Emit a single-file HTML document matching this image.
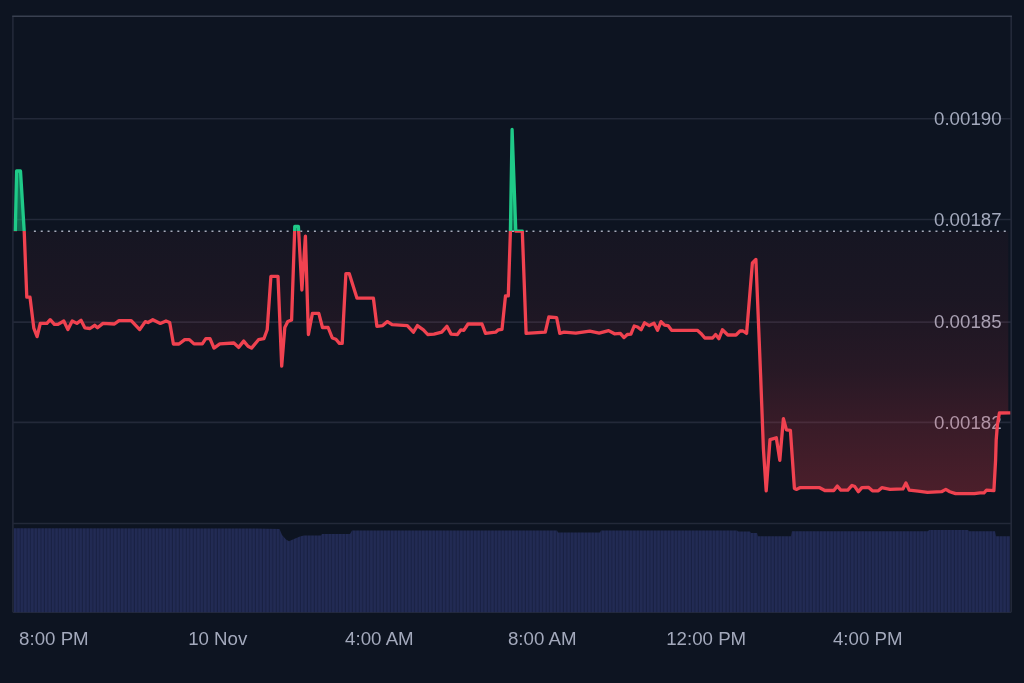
<!DOCTYPE html>
<html lang="en">
<head>
<meta charset="utf-8">
<title>Price chart</title>
<style>
html,body{margin:0;padding:0;background:#0d1421;}
body{width:1024px;height:683px;overflow:hidden;font-family:"Liberation Sans",Arial,sans-serif;}
svg{display:block;filter:blur(0.45px);}
.ax{font-family:"Liberation Sans",Arial,sans-serif;font-size:18.7px;fill:#a3a9bc;}
</style>
</head>
<body>
<svg width="1024" height="683" viewBox="0 0 1024 683">
<defs>
<linearGradient id="gr" x1="0" y1="231.2" x2="0" y2="495" gradientUnits="userSpaceOnUse">
<stop offset="0" stop-color="#ea3943" stop-opacity="0.04"/>
<stop offset="0.26" stop-color="#ea3943" stop-opacity="0.065"/>
<stop offset="0.53" stop-color="#ea3943" stop-opacity="0.12"/>
<stop offset="0.76" stop-color="#ea3943" stop-opacity="0.205"/>
<stop offset="1" stop-color="#ea3943" stop-opacity="0.285"/>
</linearGradient>
<linearGradient id="gg" x1="0" y1="125" x2="0" y2="231.2" gradientUnits="userSpaceOnUse">
<stop offset="0" stop-color="#16c784" stop-opacity="0.75"/>
<stop offset="1" stop-color="#16c784" stop-opacity="0.45"/>
</linearGradient>
<clipPath id="above"><rect x="0" y="0" width="1024" height="231"/></clipPath>
<clipPath id="below"><rect x="0" y="231" width="1024" height="452"/></clipPath>
<pattern id="vp" x="13.8" y="0" width="3.46" height="100" patternUnits="userSpaceOnUse">
<rect x="0" y="0" width="3.46" height="100" fill="#222b54"/>
<rect x="2.4" y="0" width="1.06" height="100" fill="#192143"/>
</pattern>
</defs>
<rect x="0" y="0" width="1024" height="683" fill="#0d1421"/>

<g stroke="#232939" stroke-width="1.6" fill="none">
<line x1="12.9" y1="118.8" x2="1011.2" y2="118.8"/>
<line x1="12.9" y1="219.5" x2="1011.2" y2="219.5"/>
<line x1="12.9" y1="322.1" x2="1011.2" y2="322.1"/>
<line x1="12.9" y1="422.4" x2="1011.2" y2="422.4"/>
<line x1="12.9" y1="523.5" x2="1011.2" y2="523.5"/>
<line x1="12.9" y1="16.3" x2="12.9" y2="612.3"/>
<line x1="1011.2" y1="16.3" x2="1011.2" y2="612.3"/>
<line x1="12.9" y1="612.3" x2="1011.2" y2="612.3"/>
</g>
<line x1="12.200000000000001" y1="16.3" x2="1011.9000000000001" y2="16.3" stroke="#394050" stroke-width="1.5"/>
<path d="M13.8,528.3 L256.0,528.5 L279.5,529.0 L282.0,535.0 L286.0,539.5 L289.0,541.2 L294.0,539.0 L300.0,536.5 L304.0,535.5 L321.0,535.5 L322.0,534.0 L350.0,534.0 L352.0,530.5 L557.0,530.5 L558.0,532.5 L600.0,532.5 L601.0,530.5 L737.0,530.5 L738.0,531.5 L750.0,531.5 L751.0,533.0 L757.0,533.0 L758.0,536.2 L791.0,536.2 L792.0,531.2 L928.0,531.2 L929.0,530.0 L968.0,530.0 L969.0,531.2 L995.0,531.2 L996.0,536.2 L1010.0,536.2 L1010,612.3 L13.8,612.3 Z" fill="url(#vp)"/>
<text class="ax" x="1001.6" y="125.1" text-anchor="end">0.00190</text>
<text class="ax" x="1001.6" y="225.8" text-anchor="end">0.00187</text>
<text class="ax" x="1001.6" y="328.4" text-anchor="end">0.00185</text>
<text class="ax" x="1001.6" y="428.7" text-anchor="end">0.00182</text>
<path d="M15.3,231.2 L16.6,171.0 L20.5,171.0 L24.2,231.2 L26.8,297.2 L30.0,297.2 L33.8,328.1 L37.1,336.6 L40.3,323.4 L46.9,323.4 L50.2,319.7 L54.4,324.4 L58.0,324.4 L63.8,321.0 L67.9,329.6 L72.2,321.0 L76.9,323.4 L81.0,320.3 L84.8,327.8 L90.0,328.5 L94.7,325.3 L97.5,327.8 L103.0,323.4 L114.4,324.0 L119.0,320.6 L131.2,320.6 L139.7,329.6 L145.3,321.6 L148.0,322.5 L152.8,319.7 L160.3,323.4 L166.0,321.0 L169.7,322.5 L173.4,344.0 L179.0,344.0 L184.7,339.6 L189.4,339.6 L194.0,343.9 L202.3,343.9 L205.8,338.7 L210.0,338.7 L214.0,348.1 L219.8,343.9 L233.9,343.0 L238.6,347.4 L243.7,341.1 L248.0,346.2 L251.5,348.1 L258.5,339.7 L263.9,338.7 L267.2,329.8 L270.9,276.4 L278.0,276.4 L281.7,366.2 L284.8,327.5 L287.8,321.6 L291.6,320.0 L294.8,226.4 L298.4,226.4 L301.9,290.0 L305.4,236.1 L308.4,334.5 L312.4,313.4 L318.8,313.4 L322.5,327.5 L328.1,327.5 L332.3,338.0 L335.9,339.2 L339.4,343.4 L342.2,343.4 L345.9,273.6 L349.2,273.6 L357.0,298.2 L373.4,298.2 L376.9,326.3 L382.7,325.6 L387.4,321.6 L392.1,324.7 L407.3,325.6 L413.4,332.2 L417.4,325.6 L423.4,329.8 L427.7,334.5 L434.0,334.1 L441.7,332.2 L446.9,326.3 L451.1,334.1 L457.4,334.5 L460.9,329.8 L463.8,330.3 L468.0,324.0 L482.0,324.0 L485.5,333.4 L495.6,332.2 L498.4,329.8 L502.0,329.4 L505.5,295.9 L508.3,295.9 L510.4,231.2 L512.1,129.5 L515.8,231.2 L522.3,231.2 L526.1,333.4 L545.3,332.2 L548.8,317.0 L556.6,317.7 L559.8,333.4 L564.0,332.2 L575.8,333.1 L589.8,331.2 L599.2,333.1 L608.6,330.6 L614.5,333.8 L620.3,333.4 L624.0,337.6 L627.3,334.5 L630.9,334.1 L634.2,326.0 L637.6,327.0 L641.1,329.8 L644.6,322.8 L649.3,325.6 L654.0,323.3 L657.5,330.3 L661.0,321.6 L664.5,325.2 L668.0,325.6 L671.6,330.3 L697.3,330.3 L700.9,333.4 L704.8,338.0 L712.6,338.0 L715.6,334.5 L718.9,338.7 L722.4,329.8 L727.8,335.0 L736.0,335.0 L740.0,331.0 L743.0,331.0 L746.6,333.4 L752.4,263.0 L755.9,259.5 L760.6,375.0 L763.4,449.0 L766.2,490.8 L770.0,439.7 L776.3,437.8 L779.8,460.3 L783.4,418.6 L786.4,429.8 L790.4,430.3 L794.4,488.4 L796.7,489.4 L799.8,487.7 L819.7,487.7 L824.8,490.5 L833.8,490.5 L837.3,486.1 L840.8,490.1 L847.8,490.1 L852.0,485.4 L854.8,486.6 L858.4,491.7 L861.9,487.7 L868.4,487.3 L872.4,490.8 L878.3,490.8 L881.8,487.7 L890.0,489.4 L902.9,488.9 L905.9,483.0 L909.2,490.1 L918.1,491.2 L927.5,492.4 L941.5,491.7 L945.8,489.4 L949.8,491.7 L955.6,493.6 L974.4,493.6 L980.0,492.8 L984.0,492.8 L986.5,490.2 L993.9,490.6 L995.6,460.0 L996.2,440.0 L997.4,425.0 L999.4,413.0 L1008.3,412.8 L1008.3,231.2 L15.3,231.2 Z" fill="url(#gr)" clip-path="url(#below)"/>
<path d="M15.3,231.2 L16.6,171.0 L20.5,171.0 L24.2,231.2 L26.8,297.2 L30.0,297.2 L33.8,328.1 L37.1,336.6 L40.3,323.4 L46.9,323.4 L50.2,319.7 L54.4,324.4 L58.0,324.4 L63.8,321.0 L67.9,329.6 L72.2,321.0 L76.9,323.4 L81.0,320.3 L84.8,327.8 L90.0,328.5 L94.7,325.3 L97.5,327.8 L103.0,323.4 L114.4,324.0 L119.0,320.6 L131.2,320.6 L139.7,329.6 L145.3,321.6 L148.0,322.5 L152.8,319.7 L160.3,323.4 L166.0,321.0 L169.7,322.5 L173.4,344.0 L179.0,344.0 L184.7,339.6 L189.4,339.6 L194.0,343.9 L202.3,343.9 L205.8,338.7 L210.0,338.7 L214.0,348.1 L219.8,343.9 L233.9,343.0 L238.6,347.4 L243.7,341.1 L248.0,346.2 L251.5,348.1 L258.5,339.7 L263.9,338.7 L267.2,329.8 L270.9,276.4 L278.0,276.4 L281.7,366.2 L284.8,327.5 L287.8,321.6 L291.6,320.0 L294.8,226.4 L298.4,226.4 L301.9,290.0 L305.4,236.1 L308.4,334.5 L312.4,313.4 L318.8,313.4 L322.5,327.5 L328.1,327.5 L332.3,338.0 L335.9,339.2 L339.4,343.4 L342.2,343.4 L345.9,273.6 L349.2,273.6 L357.0,298.2 L373.4,298.2 L376.9,326.3 L382.7,325.6 L387.4,321.6 L392.1,324.7 L407.3,325.6 L413.4,332.2 L417.4,325.6 L423.4,329.8 L427.7,334.5 L434.0,334.1 L441.7,332.2 L446.9,326.3 L451.1,334.1 L457.4,334.5 L460.9,329.8 L463.8,330.3 L468.0,324.0 L482.0,324.0 L485.5,333.4 L495.6,332.2 L498.4,329.8 L502.0,329.4 L505.5,295.9 L508.3,295.9 L510.4,231.2 L512.1,129.5 L515.8,231.2 L522.3,231.2 L526.1,333.4 L545.3,332.2 L548.8,317.0 L556.6,317.7 L559.8,333.4 L564.0,332.2 L575.8,333.1 L589.8,331.2 L599.2,333.1 L608.6,330.6 L614.5,333.8 L620.3,333.4 L624.0,337.6 L627.3,334.5 L630.9,334.1 L634.2,326.0 L637.6,327.0 L641.1,329.8 L644.6,322.8 L649.3,325.6 L654.0,323.3 L657.5,330.3 L661.0,321.6 L664.5,325.2 L668.0,325.6 L671.6,330.3 L697.3,330.3 L700.9,333.4 L704.8,338.0 L712.6,338.0 L715.6,334.5 L718.9,338.7 L722.4,329.8 L727.8,335.0 L736.0,335.0 L740.0,331.0 L743.0,331.0 L746.6,333.4 L752.4,263.0 L755.9,259.5 L760.6,375.0 L763.4,449.0 L766.2,490.8 L770.0,439.7 L776.3,437.8 L779.8,460.3 L783.4,418.6 L786.4,429.8 L790.4,430.3 L794.4,488.4 L796.7,489.4 L799.8,487.7 L819.7,487.7 L824.8,490.5 L833.8,490.5 L837.3,486.1 L840.8,490.1 L847.8,490.1 L852.0,485.4 L854.8,486.6 L858.4,491.7 L861.9,487.7 L868.4,487.3 L872.4,490.8 L878.3,490.8 L881.8,487.7 L890.0,489.4 L902.9,488.9 L905.9,483.0 L909.2,490.1 L918.1,491.2 L927.5,492.4 L941.5,491.7 L945.8,489.4 L949.8,491.7 L955.6,493.6 L974.4,493.6 L980.0,492.8 L984.0,492.8 L986.5,490.2 L993.9,490.6 L995.6,460.0 L996.2,440.0 L997.4,425.0 L999.4,413.0 L1008.3,412.8 L1008.3,231.2 L15.3,231.2 Z" fill="url(#gg)" clip-path="url(#above)"/>
<line x1="33.9" y1="231.2" x2="1008" y2="231.2" stroke="#a6abbb" stroke-width="1.6" stroke-dasharray="2 4.83"/>
<path d="M15.3,231.2 L16.6,171.0 L20.5,171.0 L24.2,231.2 L26.8,297.2 L30.0,297.2 L33.8,328.1 L37.1,336.6 L40.3,323.4 L46.9,323.4 L50.2,319.7 L54.4,324.4 L58.0,324.4 L63.8,321.0 L67.9,329.6 L72.2,321.0 L76.9,323.4 L81.0,320.3 L84.8,327.8 L90.0,328.5 L94.7,325.3 L97.5,327.8 L103.0,323.4 L114.4,324.0 L119.0,320.6 L131.2,320.6 L139.7,329.6 L145.3,321.6 L148.0,322.5 L152.8,319.7 L160.3,323.4 L166.0,321.0 L169.7,322.5 L173.4,344.0 L179.0,344.0 L184.7,339.6 L189.4,339.6 L194.0,343.9 L202.3,343.9 L205.8,338.7 L210.0,338.7 L214.0,348.1 L219.8,343.9 L233.9,343.0 L238.6,347.4 L243.7,341.1 L248.0,346.2 L251.5,348.1 L258.5,339.7 L263.9,338.7 L267.2,329.8 L270.9,276.4 L278.0,276.4 L281.7,366.2 L284.8,327.5 L287.8,321.6 L291.6,320.0 L294.8,226.4 L298.4,226.4 L301.9,290.0 L305.4,236.1 L308.4,334.5 L312.4,313.4 L318.8,313.4 L322.5,327.5 L328.1,327.5 L332.3,338.0 L335.9,339.2 L339.4,343.4 L342.2,343.4 L345.9,273.6 L349.2,273.6 L357.0,298.2 L373.4,298.2 L376.9,326.3 L382.7,325.6 L387.4,321.6 L392.1,324.7 L407.3,325.6 L413.4,332.2 L417.4,325.6 L423.4,329.8 L427.7,334.5 L434.0,334.1 L441.7,332.2 L446.9,326.3 L451.1,334.1 L457.4,334.5 L460.9,329.8 L463.8,330.3 L468.0,324.0 L482.0,324.0 L485.5,333.4 L495.6,332.2 L498.4,329.8 L502.0,329.4 L505.5,295.9 L508.3,295.9 L510.4,231.2 L512.1,129.5 L515.8,231.2 L522.3,231.2 L526.1,333.4 L545.3,332.2 L548.8,317.0 L556.6,317.7 L559.8,333.4 L564.0,332.2 L575.8,333.1 L589.8,331.2 L599.2,333.1 L608.6,330.6 L614.5,333.8 L620.3,333.4 L624.0,337.6 L627.3,334.5 L630.9,334.1 L634.2,326.0 L637.6,327.0 L641.1,329.8 L644.6,322.8 L649.3,325.6 L654.0,323.3 L657.5,330.3 L661.0,321.6 L664.5,325.2 L668.0,325.6 L671.6,330.3 L697.3,330.3 L700.9,333.4 L704.8,338.0 L712.6,338.0 L715.6,334.5 L718.9,338.7 L722.4,329.8 L727.8,335.0 L736.0,335.0 L740.0,331.0 L743.0,331.0 L746.6,333.4 L752.4,263.0 L755.9,259.5 L760.6,375.0 L763.4,449.0 L766.2,490.8 L770.0,439.7 L776.3,437.8 L779.8,460.3 L783.4,418.6 L786.4,429.8 L790.4,430.3 L794.4,488.4 L796.7,489.4 L799.8,487.7 L819.7,487.7 L824.8,490.5 L833.8,490.5 L837.3,486.1 L840.8,490.1 L847.8,490.1 L852.0,485.4 L854.8,486.6 L858.4,491.7 L861.9,487.7 L868.4,487.3 L872.4,490.8 L878.3,490.8 L881.8,487.7 L890.0,489.4 L902.9,488.9 L905.9,483.0 L909.2,490.1 L918.1,491.2 L927.5,492.4 L941.5,491.7 L945.8,489.4 L949.8,491.7 L955.6,493.6 L974.4,493.6 L980.0,492.8 L984.0,492.8 L986.5,490.2 L993.9,490.6 L995.6,460.0 L996.2,440.0 L997.4,425.0 L999.4,413.0 L1010.3,412.8" fill="none" stroke="#f04250" stroke-width="3.3" stroke-linejoin="round" stroke-linecap="butt" clip-path="url(#below)"/>
<path d="M15.3,231.2 L16.6,171.0 L20.5,171.0 L24.2,231.2 L26.8,297.2 L30.0,297.2 L33.8,328.1 L37.1,336.6 L40.3,323.4 L46.9,323.4 L50.2,319.7 L54.4,324.4 L58.0,324.4 L63.8,321.0 L67.9,329.6 L72.2,321.0 L76.9,323.4 L81.0,320.3 L84.8,327.8 L90.0,328.5 L94.7,325.3 L97.5,327.8 L103.0,323.4 L114.4,324.0 L119.0,320.6 L131.2,320.6 L139.7,329.6 L145.3,321.6 L148.0,322.5 L152.8,319.7 L160.3,323.4 L166.0,321.0 L169.7,322.5 L173.4,344.0 L179.0,344.0 L184.7,339.6 L189.4,339.6 L194.0,343.9 L202.3,343.9 L205.8,338.7 L210.0,338.7 L214.0,348.1 L219.8,343.9 L233.9,343.0 L238.6,347.4 L243.7,341.1 L248.0,346.2 L251.5,348.1 L258.5,339.7 L263.9,338.7 L267.2,329.8 L270.9,276.4 L278.0,276.4 L281.7,366.2 L284.8,327.5 L287.8,321.6 L291.6,320.0 L294.8,226.4 L298.4,226.4 L301.9,290.0 L305.4,236.1 L308.4,334.5 L312.4,313.4 L318.8,313.4 L322.5,327.5 L328.1,327.5 L332.3,338.0 L335.9,339.2 L339.4,343.4 L342.2,343.4 L345.9,273.6 L349.2,273.6 L357.0,298.2 L373.4,298.2 L376.9,326.3 L382.7,325.6 L387.4,321.6 L392.1,324.7 L407.3,325.6 L413.4,332.2 L417.4,325.6 L423.4,329.8 L427.7,334.5 L434.0,334.1 L441.7,332.2 L446.9,326.3 L451.1,334.1 L457.4,334.5 L460.9,329.8 L463.8,330.3 L468.0,324.0 L482.0,324.0 L485.5,333.4 L495.6,332.2 L498.4,329.8 L502.0,329.4 L505.5,295.9 L508.3,295.9 L510.4,231.2 L512.1,129.5 L515.8,231.2 L522.3,231.2 L526.1,333.4 L545.3,332.2 L548.8,317.0 L556.6,317.7 L559.8,333.4 L564.0,332.2 L575.8,333.1 L589.8,331.2 L599.2,333.1 L608.6,330.6 L614.5,333.8 L620.3,333.4 L624.0,337.6 L627.3,334.5 L630.9,334.1 L634.2,326.0 L637.6,327.0 L641.1,329.8 L644.6,322.8 L649.3,325.6 L654.0,323.3 L657.5,330.3 L661.0,321.6 L664.5,325.2 L668.0,325.6 L671.6,330.3 L697.3,330.3 L700.9,333.4 L704.8,338.0 L712.6,338.0 L715.6,334.5 L718.9,338.7 L722.4,329.8 L727.8,335.0 L736.0,335.0 L740.0,331.0 L743.0,331.0 L746.6,333.4 L752.4,263.0 L755.9,259.5 L760.6,375.0 L763.4,449.0 L766.2,490.8 L770.0,439.7 L776.3,437.8 L779.8,460.3 L783.4,418.6 L786.4,429.8 L790.4,430.3 L794.4,488.4 L796.7,489.4 L799.8,487.7 L819.7,487.7 L824.8,490.5 L833.8,490.5 L837.3,486.1 L840.8,490.1 L847.8,490.1 L852.0,485.4 L854.8,486.6 L858.4,491.7 L861.9,487.7 L868.4,487.3 L872.4,490.8 L878.3,490.8 L881.8,487.7 L890.0,489.4 L902.9,488.9 L905.9,483.0 L909.2,490.1 L918.1,491.2 L927.5,492.4 L941.5,491.7 L945.8,489.4 L949.8,491.7 L955.6,493.6 L974.4,493.6 L980.0,492.8 L984.0,492.8 L986.5,490.2 L993.9,490.6 L995.6,460.0 L996.2,440.0 L997.4,425.0 L999.4,413.0 L1010.3,412.8" fill="none" stroke="#1fca88" stroke-width="3.3" stroke-linejoin="round" stroke-linecap="butt" clip-path="url(#above)"/>
<text class="ax" x="53.9" y="645.2" text-anchor="middle">8:00 PM</text>
<text class="ax" x="217.75" y="645.2" text-anchor="middle">10 Nov</text>
<text class="ax" x="379.4" y="645.2" text-anchor="middle">4:00 AM</text>
<text class="ax" x="542.2" y="645.2" text-anchor="middle">8:00 AM</text>
<text class="ax" x="706.2" y="645.2" text-anchor="middle">12:00 PM</text>
<text class="ax" x="867.75" y="645.2" text-anchor="middle">4:00 PM</text>
</svg>
</body>
</html>
